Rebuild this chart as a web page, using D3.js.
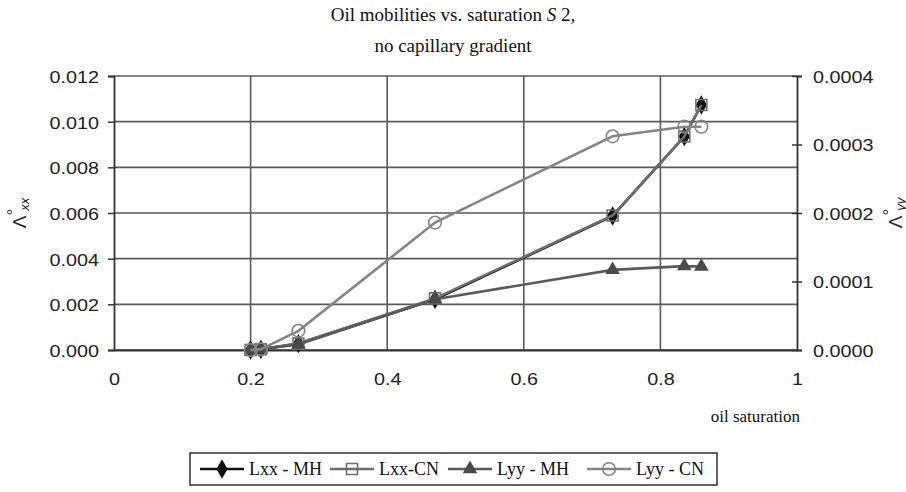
<!DOCTYPE html>
<html>
<head>
<meta charset="utf-8">
<script src="https://cdn.jsdelivr.net/npm/d3@7"></script>
<style>
  html, body { margin: 0; padding: 0; background: #fff; }
  svg { display: block; }
  .tick-lbl { font-family: "Liberation Sans", Arial, sans-serif; font-size: 16.5px; fill: #222; }
  .serif { font-family: "Liberation Serif", "Times New Roman", serif; fill: #111; }
</style>
</head>
<body>
<svg id="chart" width="906" height="492"></svg>
<script>
// Oil saturation sample points
const saturation = [0.20, 0.215, 0.27, 0.47, 0.73, 0.835, 0.86];
// Lambda_xx (left axis)
const lxxMH = [0.00000, 0.00003, 0.00028, 0.00222, 0.00587, 0.00935, 0.01073];
const lxxCN = [0.00000, 0.00003, 0.00028, 0.00226, 0.00589, 0.00935, 0.01073];
// Lambda_yy (right axis)
const lyyMH = [0.0000000, 0.0000010, 0.0000080, 0.0000740, 0.0001170, 0.0001225, 0.0001220];
const lyyCN = [0.0000000, 0.0000010, 0.0000280, 0.0001860, 0.0003120, 0.0003260, 0.0003260];

const xTicks = [0, 0.2, 0.4, 0.6, 0.8, 1];
const yLeftTicks = [0, 0.002, 0.004, 0.006, 0.008, 0.010, 0.012];
const yRightTicks = [0, 0.0001, 0.0002, 0.0003, 0.0004];
const seriesNames = ["Lxx - MH", "Lxx-CN", "Lyy - MH", "Lyy - CN"];

const svg = d3.select("#chart");
const plotL = 114, plotR = 797, plotT = 76, plotB = 350;
const stretch = 1.2; // tick labels are set in a wide face

const x = d3.scaleLinear().domain([0, 1]).range([plotL, plotR]);
const yL = d3.scaleLinear().domain([0, 0.012]).range([plotB, plotT]);
const yR = d3.scaleLinear().domain([0, 0.0004]).range([plotB, plotT]);

const gridColor = "#5a5a5a";

// Gridlines
const grid = svg.append("g");
grid.selectAll("line.h").data(yLeftTicks).join("line")
  .attr("x1", plotL).attr("x2", plotR)
  .attr("y1", d => yL(d)).attr("y2", d => yL(d))
  .attr("stroke", gridColor).attr("stroke-width", 1.6);
grid.selectAll("line.v").data(xTicks.filter(d => d > 0 && d < 1)).join("line")
  .attr("x1", d => x(d)).attr("x2", d => x(d))
  .attr("y1", plotT).attr("y2", plotB)
  .attr("stroke", gridColor).attr("stroke-width", 1.6);

// Widen tick labels horizontally about their anchor point
function widen(sel, dx, dy) {
  sel.each(function () {
    const t = d3.select(this);
    t.attr("x", null).attr("dy", null).attr("y", null)
      .attr("dominant-baseline", "central")
      .attr("transform", `translate(${dx},${dy}) scale(${stretch},1)`);
  });
}

// Left axis
const axL = svg.append("g").attr("transform", `translate(${plotL},0)`)
  .call(d3.axisLeft(yL).tickValues(yLeftTicks).tickFormat(d3.format(".3f")).tickSize(6));
axL.select(".domain").attr("stroke", "#333").attr("stroke-width", 1.8);
axL.selectAll(".tick line").attr("stroke", "#333").attr("stroke-width", 1.5);
axL.selectAll(".tick text").attr("class", "tick-lbl").call(widen, -15, 1);
axL.attr("font-size", null).attr("font-family", null);

// Right axis (ticks cross the axis line)
const axR = svg.append("g").attr("transform", `translate(${plotR},0)`)
  .call(d3.axisRight(yR).tickValues(yRightTicks).tickFormat(d3.format(".4f")).tickSize(5));
axR.select(".domain").attr("stroke", "#333").attr("stroke-width", 1.8);
axR.selectAll(".tick line").attr("x1", -5).attr("stroke", "#333").attr("stroke-width", 1.5);
axR.selectAll(".tick text").attr("class", "tick-lbl").call(widen, 16, 1);
axR.attr("font-size", null).attr("font-family", null);

// Bottom axis
const axB = svg.append("g").attr("transform", `translate(0,${plotB})`)
  .call(d3.axisBottom(x).tickValues(xTicks).tickFormat(d3.format("")).tickSize(0));
axB.select(".domain").attr("stroke", "#333").attr("stroke-width", 1.8);
axB.selectAll(".tick text").attr("class", "tick-lbl").call(widen, 0, 30);
axB.attr("font-size", null).attr("font-family", null);

// Series
const series = [
  { name: seriesNames[0], vals: lxxMH, y: yL, line: "#111", sym: d3.symbolDiamond, fill: "#111", stroke: "#111", size: 75 },
  { name: seriesNames[1], vals: lxxCN, y: yL, line: "#6e6e6e", sym: d3.symbolSquare, fill: "none", stroke: "#6e6e6e", size: 120 },
  { name: seriesNames[2], vals: lyyMH, y: yR, line: "#5a5a5a", sym: d3.symbolTriangle, fill: "#4a4a4a", stroke: "#4a4a4a", size: 60 },
  { name: seriesNames[3], vals: lyyCN, y: yR, line: "#858585", sym: d3.symbolCircle, fill: "none", stroke: "#858585", size: 125 }
];

const plot = svg.append("g");
series.forEach(s => {
  const pts = saturation.map((v, i) => [v, s.vals[i]]);
  plot.append("path")
    .datum(pts)
    .attr("fill", "none")
    .attr("stroke", s.line)
    .attr("stroke-width", 2.6)
    .attr("d", d3.line().x(d => x(d[0])).y(d => s.y(d[1])));
  plot.selectAll(null).data(pts).join("path")
    .attr("transform", d => `translate(${x(d[0])},${s.y(d[1])})`)
    .attr("d", d3.symbol().type(s.sym).size(s.size))
    .attr("fill", s.fill)
    .attr("stroke", s.stroke)
    .attr("stroke-width", 1.6);
});

// Title
const title = svg.append("text").attr("class", "serif")
  .attr("text-anchor", "middle").attr("font-size", 19);
const t1 = title.append("tspan").attr("x", 453).attr("y", 21);
t1.append("tspan").text("Oil mobilities vs. saturation ");
t1.append("tspan").attr("font-style", "italic").text("S");
t1.append("tspan").text(" 2,");
title.append("tspan").attr("x", 453).attr("y", 52).text("no capillary gradient");

// Axis titles: Λ°xx and Λ°yy, read bottom to top
function lambdaTitle(cx, cy, sub) {
  const t = svg.append("text")
    .attr("transform", `translate(${cx},${cy}) rotate(-90)`)
    .attr("text-anchor", "middle")
    .attr("dominant-baseline", "central")
    .attr("font-family", "Liberation Sans, Arial, sans-serif")
    .attr("font-size", 19).attr("fill", "#222");
  t.append("tspan").text("Λ");
  t.append("tspan").attr("dy", -6).attr("font-size", 17).text("°");
  t.append("tspan").attr("dy", 11).attr("dx", -2).attr("font-size", 13).attr("font-style", "italic").text(sub);
}
lambdaTitle(19, 213, "xx");
lambdaTitle(895, 213, "yy");

// X axis title
svg.append("text").attr("class", "serif")
  .attr("x", 800).attr("y", 422).attr("text-anchor", "end")
  .attr("font-size", 17).text("oil saturation");

// Legend
const legX = 190, legY = 453, legW = 527, legH = 32;
svg.append("rect").attr("x", legX).attr("y", legY).attr("width", legW).attr("height", legH)
  .attr("fill", "#fff").attr("stroke", "#333").attr("stroke-width", 1.5);
const legStarts = [200, 330, 448, 587];
const leg = svg.append("g");
series.forEach((s, i) => {
  const lx = legStarts[i], ly = legY + legH / 2;
  leg.append("line").attr("x1", lx).attr("x2", lx + 44).attr("y1", ly).attr("y2", ly)
    .attr("stroke", s.line).attr("stroke-width", 2.6);
  leg.append("path").attr("transform", `translate(${lx + 22},${ly})`)
    .attr("d", d3.symbol().type(s.sym).size(s.size))
    .attr("fill", s.fill).attr("stroke", s.stroke).attr("stroke-width", 1.6);
  leg.append("text").attr("class", "serif").attr("x", lx + 49).attr("y", ly + 6)
    .attr("font-size", 18).text(s.name);
});
</script>
</body>
</html>
